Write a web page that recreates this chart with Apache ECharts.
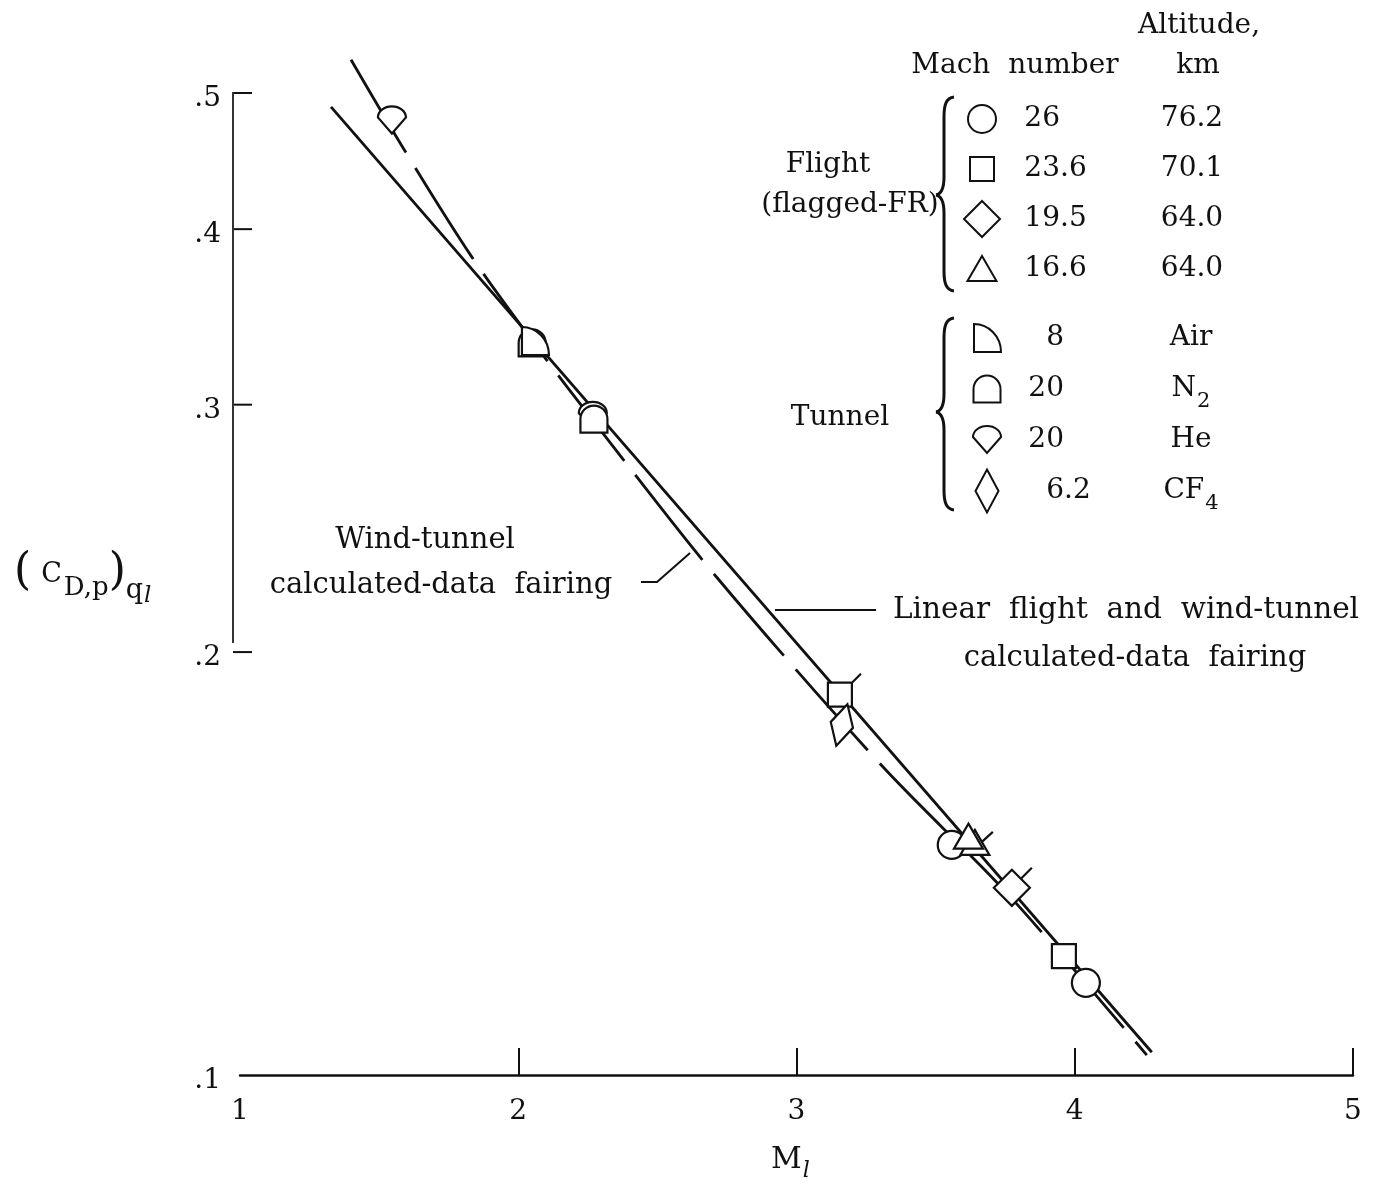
<!DOCTYPE html>
<html>
<head>
<meta charset="utf-8">
<title>Pressure drag coefficient against local Mach number</title>
<script src="https://cdn.jsdelivr.net/npm/echarts@6.0.0/dist/echarts.min.js"></script>
<style>
  html, body { margin: 0; padding: 0; background: #fff; }
  #chart { width: 1375px; height: 1192px; }
</style>
</head>
<body>
<div id="chart"></div>
<script>
// axes
const xTicks = [1, 2, 3, 4, 5];
const xTickMarks = [2, 3, 4, 5];
const yTicks = [0.1, 0.2, 0.3, 0.4, 0.5];
const yTickLabels = ['.1', '.2', '.3', '.4', '.5'];
const yAxisLineEnd = 0.203;

// fairings  [M_l, (C_D,p)_ql]
const linearFairing = [[1.327, 0.4887], [4.277, 0.1038]];
const windTunnelFairing = [
  [1.399, 0.528], [1.589, 0.456], [1.830, 0.383], [2.046, 0.334], [2.294, 0.288],
  [2.714, 0.226], [3.307, 0.166], [3.767, 0.134], [4.259, 0.1033]
];

// flight points  [M_l, (C_D,p)_ql, flagged]
const flight26 = [[3.558, 0.1458, 0], [4.040, 0.1163, 0]];
const flight236 = [[3.156, 0.1865, 1], [3.961, 0.1215, 0]];
const flight195 = [[3.774, 0.1359, 1]];
const flight166 = [[3.641, 0.1463, 1], [3.618, 0.1478, 0]];

// tunnel points
const tunnelAir = [[2.060, 0.333]];
const tunnelN2 = [[2.050, 0.332], [2.272, 0.293]];
const tunnelHe = [[1.546, 0.478], [2.268, 0.2945]];
const tunnelCF4 = [[3.163, 0.1775]];

// legend columns
const flightMach = ['26', '23.6', '19.5', '16.6'];
const flightAlt = ['76.2', '70.1', '64.0', '64.0'];
const tunnelMach = ['8', '20', '20', '6.2'];
const tunnelGas = [['Air', ''], ['N', '2'], ['He', ''], ['CF', '4']];

const FONT = '"DejaVu Serif", "Liberation Serif", serif';
const INK = '#111';

// all symbols drawn in a 44 x 44 box (the two lone M points pin the box)
const BOX = 'M0,0 M44,44 ';
const SHAPES = {
  circle: 'M8,22 A14,14 0 1 1 36,22 A14,14 0 1 1 8,22 Z',
  square: 'M10,10 L34,10 L34,34 L10,34 Z',
  diamond: 'M22,4 L40,22 L22,40 L4,22 Z',
  triangle: 'M22,9 L36.5,34 L7.5,34 Z',
  air: 'M9,8 A27,28 0 0 1 36,36 L9,36 Z',
  n2: 'M8.5,35.5 L8.5,22 A13.5,13.5 0 0 1 35.5,22 L35.5,35.5 Z',
  he: 'M8,19 A14,11 0 0 1 36,19 L22,35 Z',
  cf4: 'M22,0.5 L33.5,22 L22,43.5 L10.5,22 Z'
};
const FLAGS = {
  circle: ' M32,12 L42,2',
  square: ' M34,10 L43,1',
  diamond: ' M31,13 L42,2',
  triangle: ' M29,21 L40,11'
};
const sym = (shape, flagged) => 'path://' + BOX + SHAPES[shape] + (flagged ? FLAGS[shape] : '');

const flightShapes = ['circle', 'square', 'diamond', 'triangle'];
const tunnelShapes = ['air', 'n2', 'he', 'cf4'];
const flightNames = flightMach.map(m => 'Flight ' + m);
const tunnelNames = tunnelMach.map((m, i) => 'Tunnel ' + m + ' ' + tunnelGas[i].join(''));

const markerStyle = { color: '#fff', borderColor: INK, borderWidth: 2.2, opacity: 1 };

function points(name, data, shape, z, rotate) {
  return {
    name, type: 'scatter', data, z, silent: true,
    symbol: v => sym(shape, v[2]),
    symbolSize: 44,
    symbolRotate: rotate || 0,
    itemStyle: markerStyle
  };
}

// measured text widths, used to line the legend columns up
const ctx = document.createElement('canvas').getContext('2d');
function textWidth(t, size) {
  ctx.font = size + 'px ' + FONT;
  return ctx.measureText(t).width;
}

const cell = { fontFamily: FONT, fontSize: 28, lineHeight: 44, color: INK };
const subCell = { fontFamily: FONT, fontSize: 21, lineHeight: 20, padding: [24, 0, 0, 1], verticalAlign: 'top', color: INK };

// one legend row: Mach number lined up on the decimal point, second column centred
function legendRow(rich, key, start, intRight, colCenter, mach, main, sub) {
  const [whole, frac] = mach.split('.');
  const fracText = frac ? '.' + frac : '';
  const colW = textWidth(main, 28) + (sub ? textWidth(sub, 21) + 1 : 0);
  rich[key + 'a'] = { width: Math.max(1, intRight - start - textWidth(whole, 28)) };
  rich[key + 'b'] = { width: Math.max(1, colCenter - colW / 2 - intRight - textWidth(fracText, 28)) };
  return `{${key}a| }{m|${mach}}{${key}b| }{a|${main}}` + (sub ? `{s|${sub}}` : '');
}

const flightRich = { m: cell, a: cell, s: subCell };
const flightRows = flightMach.map((m, i) => legendRow(flightRich, 'r' + i, 1008, 1059, 1191, m, flightAlt[i], ''));
const tunnelRich = { m: cell, a: cell, s: subCell };
const tunnelRows = tunnelMach.map((m, i) => legendRow(tunnelRich, 'r' + i, 1013, 1063, 1190, m, tunnelGas[i][0], tunnelGas[i][1]));

function brace(x, top, tip, bottom) {
  const st = { stroke: INK, lineWidth: 3, fill: 'none' };
  const bz = (x1, y1, cx1, cy1, cx2, cy2, x2, y2) => ({
    type: 'bezierCurve', silent: true, style: st,
    shape: { x1, y1, cpx1: cx1, cpy1: cy1, cpx2: cx2, cpy2: cy2, x2, y2 }
  });
  const ln = (y1, y2) => ({ type: 'line', silent: true, style: st, shape: { x1: x, y1, x2: x, y2 } });
  return [
    bz(x + 10, top, x + 2, top + 1, x, top + 8, x, top + 20),
    ln(top + 20, tip - 18),
    bz(x, tip - 18, x, tip - 6, x - 3, tip - 1, x - 8, tip),
    bz(x - 8, tip, x - 3, tip + 1, x, tip + 6, x, tip + 18),
    ln(tip + 18, bottom - 20),
    bz(x, bottom - 20, x, bottom - 8, x + 2, bottom - 1, x + 10, bottom)
  ];
}

function label(text, x, y, size, align) {
  return {
    type: 'text', x, y, silent: true,
    style: {
      text, font: size + 'px ' + FONT, fill: INK,
      align: align || 'center', textAlign: align || 'center',
      verticalAlign: 'middle', textVerticalAlign: 'middle'
    }
  };
}

const chart = echarts.init(document.getElementById('chart'));

chart.setOption({
  animation: false,
  backgroundColor: '#fff',
  grid: { left: 240, right: 22, top: 93, bottom: 117, outerBoundsMode: 'none' },
  xAxis: {
    type: 'value', min: xTicks[0], max: xTicks[xTicks.length - 1], interval: 1,
    name: '{m|M}{l|l}', nameLocation: 'middle', nameGap: 63,
    nameTextStyle: {
      padding: [0, 12, 0, 0],
      rich: {
        m: { fontFamily: FONT, fontSize: 30, lineHeight: 44, color: INK },
        l: { fontFamily: FONT, fontSize: 22, fontStyle: 'italic', lineHeight: 22, padding: [22, 0, 0, 1], verticalAlign: 'top', color: INK }
      }
    },
    axisLine: { onZero: false, lineStyle: { color: INK, width: 2.5 } },
    axisTick: { inside: true, length: 27, customValues: xTickMarks, lineStyle: { color: INK, width: 2 } },
    axisLabel: { color: INK, fontFamily: FONT, fontSize: 28, margin: 23 },
    splitLine: { show: false }
  },
  yAxis: {
    type: 'log', logBase: 10, min: yTicks[0], max: yTicks[yTicks.length - 1],
    axisLine: { show: false }, axisTick: { show: false },
    axisLabel: { show: false }, splitLine: { show: false }
  },
  legend: [
    {
      orient: 'vertical', left: 959, top: 96, padding: 0,
      itemWidth: 44, itemHeight: 44, itemGap: 4, selectedMode: false,
      data: flightNames.map((n, i) => ({ name: n, icon: sym(flightShapes[i], false) })),
      itemStyle: { color: '#fff', borderColor: INK, borderWidth: 2, opacity: 1 },
      textStyle: { rich: flightRich },
      formatter: name => flightRows[flightNames.indexOf(name)]
    },
    {
      orient: 'vertical', left: 964, top: 315, padding: 0,
      itemWidth: 44, itemHeight: 44, itemGap: 5, selectedMode: false,
      data: tunnelNames.map((n, i) => ({ name: n, icon: sym(tunnelShapes[i], false) })),
      itemStyle: { color: '#fff', borderColor: INK, borderWidth: 2, opacity: 1 },
      textStyle: { rich: tunnelRich },
      formatter: name => tunnelRows[tunnelNames.indexOf(name)]
    }
  ],
  graphic: {
    elements: [
      label('Altitude,', 1199, 26, 28),
      label('Mach  number', 1015, 66, 28),
      label('km', 1198, 66, 28),
      label('Flight', 828, 165, 28),
      label('(flagged-FR)', 850, 205, 28),
      label('Tunnel', 840, 418, 28),
      label('Wind-tunnel', 425, 540, 29),
      label('calculated-data  fairing', 441, 585, 29),
      label('Linear  flight  and  wind-tunnel', 893, 610, 29.5, 'left'),
      label('calculated-data  fairing', 1135, 658, 29),
      {
        type: 'polyline', silent: true,
        shape: { points: [[641, 582], [657, 582], [690, 553]] },
        style: { stroke: INK, lineWidth: 2, fill: 'none' }
      },
      {
        type: 'polyline', silent: true,
        shape: { points: [[775, 610], [876, 610]] },
        style: { stroke: INK, lineWidth: 1.8, fill: 'none' }
      },
      {
        type: 'text', x: 14, y: 551, silent: true,
        style: {
          text: '{p|(}{c|C}{s|D,p}{p|)}{q|q}{l|l}',
          verticalAlign: 'top', textVerticalAlign: 'top', fill: INK,
          rich: {
            p: { fontFamily: FONT, fontSize: 44, lineHeight: 54, verticalAlign: 'top', fill: INK },
            c: { fontFamily: FONT, fontSize: 27, lineHeight: 24, padding: [10, 2, 0, 10], verticalAlign: 'top', fill: INK },
            s: { fontFamily: FONT, fontSize: 26, lineHeight: 24, padding: [24, 0, 0, 0], verticalAlign: 'top', fill: INK },
            q: { fontFamily: FONT, fontSize: 27, lineHeight: 24, padding: [26, 0, 0, 0], verticalAlign: 'top', fill: INK },
            l: { fontFamily: FONT, fontSize: 23, fontStyle: 'italic', lineHeight: 22, padding: [34, 0, 0, 1], verticalAlign: 'top', fill: INK }
          }
        }
      }
    ]
      .concat(brace(944, 97, 195, 291))
      .concat(brace(944, 318, 412, 510))
  },
  series: [
    {
      name: 'Linear flight and wind-tunnel fairing', type: 'line', data: linearFairing,
      showSymbol: false, clip: false, silent: true, z: 2,
      lineStyle: { color: INK, width: 2.8 }
    },
    {
      name: 'Wind-tunnel fairing', type: 'line', data: windTunnelFairing, smooth: 0.3,
      showSymbol: false, clip: false, silent: true, z: 2,
      lineStyle: { color: INK, width: 2.8, type: [108, 18] }
    },
    points(flightNames[0], flight26, 'circle', 4),
    points(flightNames[1], flight236, 'square', 4),
    points(flightNames[2], flight195, 'diamond', 4),
    points(flightNames[3], flight166, 'triangle', 4),
    points(tunnelNames[0], tunnelAir, 'air', 7),
    points(tunnelNames[1], tunnelN2, 'n2', 6),
    points(tunnelNames[2], tunnelHe, 'he', 5),
    points(tunnelNames[3], tunnelCF4, 'cf4', 5, -15),
    {
      name: 'y ticks', type: 'custom', coordinateSystem: 'cartesian2d',
      silent: true, clip: false, z: 5,
      data: yTicks.map((v, i) => [xTicks[0], v, i]),
      renderItem: (params, api) => {
        const k = api.value(2);
        const p = api.coord([api.value(0), api.value(1)]);
        const kids = [{
          type: 'text', x: p[0] - 19, y: p[1] + 6,
          style: {
            text: yTickLabels[k], font: '28px ' + FONT, fill: INK,
            align: 'right', textAlign: 'right', verticalAlign: 'middle', textVerticalAlign: 'middle'
          }
        }];
        if (k > 0) {
          kids.push({ type: 'line', shape: { x1: p[0] - 7, y1: p[1], x2: p[0] + 12, y2: p[1] }, style: { stroke: INK, lineWidth: 2 } });
        }
        if (k === yTicks.length - 1) {
          const q = api.coord([xTicks[0], yAxisLineEnd]);
          kids.push({ type: 'line', shape: { x1: p[0] - 7, y1: p[1] - 1, x2: p[0] - 7, y2: q[1] }, style: { stroke: '#333', lineWidth: 2 } });
        }
        return { type: 'group', children: kids };
      }
    }
  ]
});
</script>
</body>
</html>
